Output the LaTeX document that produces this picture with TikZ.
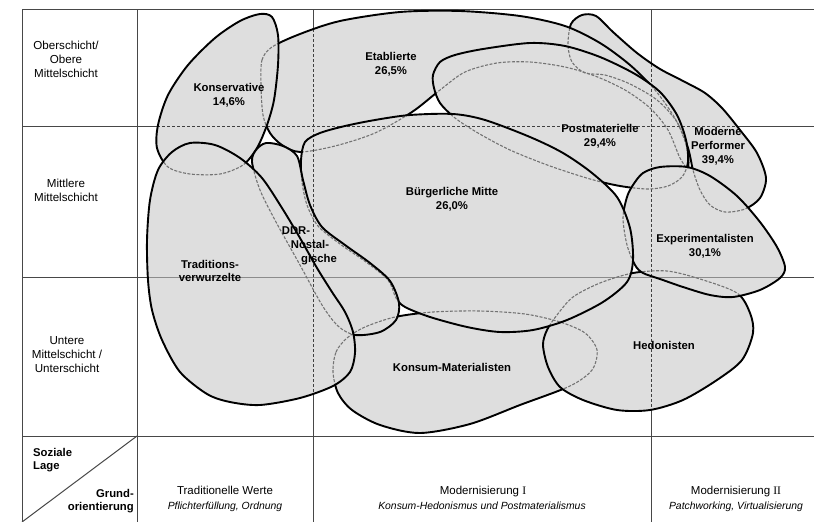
\documentclass[tikz,border=0pt]{standalone}
\usepackage{fontspec}
\setmainfont{Liberation Sans}
\newfontfamily\romfont{Liberation Serif}
\begin{document}
% shape outlines (pixel coordinates, y downwards)
\def\pKM{plot[smooth cycle] coordinates {(333,372) (336,352) (347,338) (365,327) (395,317) (433,312) (480,311) (525,314) (560,322) (585,333) (597,350) (592,370) (570,386) (520,405) (470,424) (420,433) (380,425) (352,410) (338,393)}}
\def\pMP{plot[smooth cycle] coordinates {(568,45) (571,24) (582,15) (596,16) (613,32) (637,53) (660,69) (685,82) (705,93) (722,108) (740,130) (757,153) (766,178) (760,198) (745,209) (725,212) (710,205) (700,190) (693,170) (688,148) (677,122) (657,100) (630,84) (605,75) (585,73) (572,62)}}
\def\pE{plot[smooth cycle] coordinates {(261,85) (262,60) (272,47) (300,34) (340,21) (400,12) (460,11) (520,16) (565,26) (600,43) (630,65) (655,90) (676,120) (687,148) (688,168) (680,158) (668,130) (650,108) (625,90) (595,76) (565,67) (530,62) (497,63) (465,72) (440,90) (412,112) (375,133) (335,146) (300,152) (282,145) (270,133) (263,115)}}
\def\pP{plot[smooth cycle] coordinates {(433,75) (440,62) (455,55) (483,49) (530,43) (565,46) (600,57) (635,74) (660,92) (677,115) (686,140) (688,162) (682,177) (668,186) (648,189) (620,186) (590,179) (550,166) (510,150) (478,133) (455,118) (440,103) (434,88)}}
\def\pK{plot[smooth cycle] coordinates {(157,148) (158,125) (168,95) (188,65) (215,38) (240,21) (260,14) (272,17) (278,35) (278,65) (274,100) (267,125) (257,148) (243,165) (220,174) (190,174) (168,167)}}
\def\pD{plot[smooth cycle] coordinates {(252,162) (256,150) (266,143) (283,146) (297,156) (303,180) (310,205) (322,227) (345,245) (370,263) (390,281) (399,303) (396,320) (380,332) (355,335) (338,326) (322,305) (300,265) (276,222) (260,190)}}
\def\pT{plot[smooth cycle] coordinates {(148,280) (147,240) (150,200) (158,170) (172,152) (190,143) (215,145) (240,158) (262,178) (282,208) (300,238) (317,268) (332,292) (345,312) (353,332) (355,353) (350,372) (333,386) (300,398) (260,405) (230,402) (207,394) (180,372) (162,340) (152,310)}}
\def\pH{plot[smooth cycle] coordinates {(543,345) (547,330) (557,315) (573,297) (600,283) (633,273) (667,271) (700,279) (737,293) (750,313) (753,333) (742,360) (717,380) (683,400) (650,410) (617,410) (583,400) (560,387) (548,367)}}
\def\pX{plot[smooth cycle] coordinates {(627,197) (633,185) (643,173) (660,167) (687,167) (710,176) (737,196) (760,222) (777,247) (785,267) (780,278) (760,290) (733,297) (710,295) (683,287) (660,279) (643,273) (635,265) (627,245) (623,218)}}
\def\pB{plot[smooth cycle] coordinates {(301,160) (305,142) (320,133) (345,126) (375,120) (410,115) (453,114) (485,120) (530,137) (563,153) (592,173) (617,197) (630,228) (633,260) (627,282) (603,302) (567,320) (533,330) (500,332) (467,327) (430,317) (405,307) (396,298) (388,280) (366,262) (340,244) (318,226) (307,205) (302,182)}}
\begin{tikzpicture}[x=1pt,y=-1pt,
  gridsolid/.style={draw=black!72,line width=1pt},
  gridfaint/.style={draw=black!45,line width=0.9pt},
  griddashed/.style={draw=black!75,line width=0.8pt,dash pattern=on 3pt off 2pt},
  milieufill/.style={fill=black!13},
  milieuline/.style={draw=black,line width=1.9pt},
  hiddenline/.style={draw=black!55,line width=1.1pt,dash pattern=on 3pt off 1.5pt},
  lbl/.style={font=\fontsize{11.3}{13.8}\selectfont\bfseries,align=center,inner sep=0pt},
  rowlbl/.style={font=\fontsize{11.6}{14}\selectfont,align=center,inner sep=0pt},
  corner/.style={font=\fontsize{11.3}{13}\selectfont\bfseries,inner sep=0pt},
  headA/.style={font=\fontsize{11.5}{13}\selectfont,inner sep=0pt,anchor=base},
  headB/.style={font=\fontsize{10.4}{12}\selectfont\itshape,inner sep=0pt,anchor=base}]
\useasboundingbox (0,0) rectangle (814,522);
\fill[white] (0,0) rectangle (814,522);
\newcommand\gridinner{%
  \draw[griddashed] (313,9)--(313,522) (651,9)--(651,522) (137,126)--(814,126);
  \draw[gridfaint] (137,277)--(814,277);}
\newcommand\milieu[2]{%
  \fill[milieufill] #1;
  \begin{scope}
    \clip #1;
    \gridinner
    \foreach \q in {#2}{\draw[hiddenline] \q;}
  \end{scope}
  \draw[milieuline] #1;}
% grid
\draw[gridsolid] (22,9)--(814,9) (22,126)--(814,126) (22,277)--(814,277) (22,436)--(814,436)
  (22,9)--(22,522) (137,9)--(137,522) (313,9)--(313,522) (651,9)--(651,522);
\draw[gridsolid] (137,436)--(22,522);
% milieus, back to front
\fill[milieufill] \pKM;
\begin{scope}\clip \pKM; \gridinner\end{scope}
\draw[milieuline] \pKM;
\milieu{\pMP}{\pKM}
\milieu{\pE}{\pKM,\pMP}
\milieu{\pP}{\pKM,\pMP,\pE}
\milieu{\pK}{\pKM,\pMP,\pE,\pP}
\milieu{\pH}{\pKM,\pMP,\pE,\pP,\pK}
\milieu{\pX}{\pKM,\pMP,\pE,\pP,\pK,\pH}
\milieu{\pB}{\pKM,\pMP,\pE,\pP,\pK,\pH,\pX}
\milieu{\pD}{\pKM,\pMP,\pE,\pP,\pK,\pH,\pX,\pB}
\milieu{\pT}{\pKM,\pMP,\pE,\pP,\pK,\pH,\pX,\pB,\pD}
% milieu labels
\node[lbl] (lKons) at (229,95) {Konservative\\14,6\%};
\node[lbl] (lEtab) at (391,64) {Etablierte\\26,5\%};
\node[lbl] (lPost) at (600,136) {Postmaterielle\\29,4\%};
\node[lbl] (lMode) at (718,146) {Moderne\\Performer\\39,4\%};
\node[lbl] (lBuer) at (452,199) {Bürgerliche Mitte\\26,0\%};
\node[lbl] (lExpe) at (705,246) {Experimentalisten\\30,1\%};
\node[lbl] (lTrad) at (210,271) {Traditions-\\verwurzelte};
\node[lbl] (lKons2) at (452,367) {Konsum-Materialisten};
\node[lbl] (lHedo) at (664,345) {Hedonisten};
\node[lbl,anchor=base] (lDDR1) at (296,234) {DDR-};
\node[lbl,anchor=base] (lDDR2) at (310,248) {Nostal-};
\node[lbl,anchor=base] (lDDR3) at (319,262) {gische};
% row labels
\node[rowlbl] (r1) at (66,59) {Oberschicht/\\Obere\\Mittelschicht};
\node[rowlbl] (r2) at (66,190) {Mittlere\\Mittelschicht};
\node[rowlbl] (r3) at (67,355) {Untere\\Mittelschicht /\\Unterschicht};
% corner cell
\node[corner,anchor=base west] (c1) at (33,456) {Soziale};
\node[corner,anchor=base west] (c2) at (33,469) {Lage};
\node[corner,anchor=base east] (c3) at (134,497) {Grund-};
\node[corner,anchor=base east] (c4) at (134,510) {orientierung};
% column labels
\node[headA] (h1a) at (225,494) {Traditionelle Werte};
\node[headB] (h1b) at (225,509) {Pflichterfüllung, Ordnung};
\node[headA] (h2a) at (483,494) {Modernisierung {\romfont I}};
\node[headB] (h2b) at (482,509) {Konsum-Hedonismus und Postmaterialismus};
\node[headA] (h3a) at (736,494) {Modernisierung {\romfont II}};
\node[headB] (h3b) at (736,509) {Patchworking, Virtualisierung};
\end{tikzpicture}
\end{document}
